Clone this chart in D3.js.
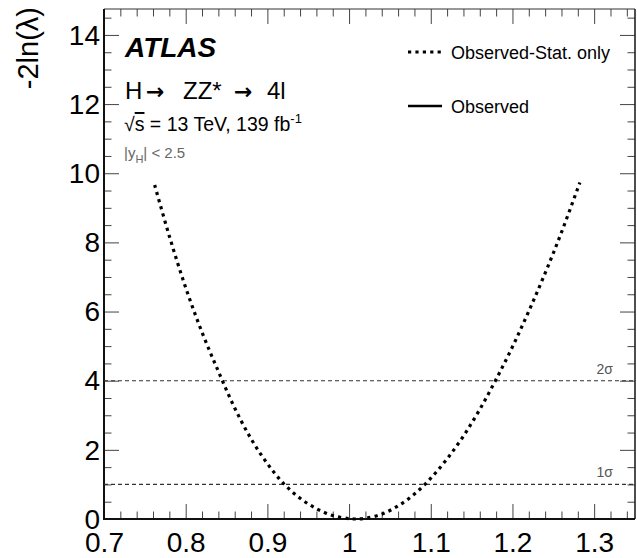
<!DOCTYPE html>
<html><head><meta charset="utf-8">
<script src="https://cdn.jsdelivr.net/npm/d3@7"></script>
<style>
body{margin:0;background:#fff}
text{font-family:"Liberation Sans",Arial,Helvetica,sans-serif}
</style>
</head><body>
<svg id="c" width="637" height="558"></svg>
<script>
// ---- data ----
const curveX = [0.762,0.78,0.80,0.82,0.84,0.86,0.88,0.90,0.92,0.94,0.96,0.98,1.00,1.008,1.02,1.04,1.06,1.08,1.10,1.12,1.14,1.16,1.18,1.20,1.22,1.24,1.26,1.2825];
const curveY = [9.66,8.18,6.69,5.40,4.27,3.21,2.32,1.60,1.02,0.60,0.30,0.10,0.01,0.0,0.02,0.14,0.38,0.72,1.18,1.74,2.40,3.17,4.04,4.98,6.01,7.11,8.29,9.73];
const xMajorTicks = [0.7,0.8,0.9,1.0,1.1,1.2,1.3];
const xTickLabels = ["0.7","0.8","0.9","1","1.1","1.2","1.3"];
const yMajorTicks = [0,2,4,6,8,10,12,14];
const yTickLabels = ["0","2","4","6","8","10","12","14"];
const sigmaLevels = [4,1];
const sigmaLabels = ["2σ","1σ"];
const legendLabels = ["Observed-Stat. only","Observed"];
const xDomain = [0.7,1.35];
const yDomain = [0,14.75];

// ---- layout ----
const L=104,R=635,T=9,B=519;
const svg=d3.select("#c");
const x=d3.scaleLinear().domain(xDomain).range([L,R]);
const y=d3.scaleLinear().domain(yDomain).range([B,T]);
const xMinor=d3.range(70,136,2).map(v=>v/100).filter(v=>!xMajorTicks.some(m=>Math.abs(m-v)<1e-9));
const yMinor=d3.range(0,30,1).map(v=>v/2).filter(v=>v<=yDomain[1] && v%2!==0);

function style(g){g.select(".domain").remove();g.selectAll(".tick line").attr("stroke","#444").attr("stroke-width",1);}

// bottom
svg.append("g").attr("transform",`translate(0,${B})`)
  .call(d3.axisBottom(x).tickValues(xMajorTicks).tickSize(-15).tickPadding(13).tickFormat((d,i)=>xTickLabels[i]))
  .call(style).call(g=>g.selectAll("text").attr("font-size",28).attr("fill","#000").attr("font-family","Liberation Sans, Arial, sans-serif"));
svg.append("g").attr("transform",`translate(0,${B})`)
  .call(d3.axisBottom(x).tickValues(xMinor).tickSize(-7.5).tickFormat("")).call(style);
// top
svg.append("g").attr("transform",`translate(0,${T})`)
  .call(d3.axisBottom(x).tickValues(xMajorTicks).tickSize(15).tickFormat("")).call(style);
svg.append("g").attr("transform",`translate(0,${T})`)
  .call(d3.axisBottom(x).tickValues(xMinor).tickSize(7.5).tickFormat("")).call(style);
// left
svg.append("g").attr("transform",`translate(${L},0)`)
  .call(d3.axisLeft(y).tickValues(yMajorTicks).tickSize(-15).tickPadding(4).tickFormat((d,i)=>yTickLabels[i]))
  .call(style).call(g=>g.selectAll("text").attr("font-size",28).attr("fill","#000").attr("dy","0.33em").attr("font-family","Liberation Sans, Arial, sans-serif"));
svg.append("g").attr("transform",`translate(${L},0)`)
  .call(d3.axisLeft(y).tickValues(yMinor).tickSize(-7.5).tickFormat("")).call(style);
// right
svg.append("g").attr("transform",`translate(${R},0)`)
  .call(d3.axisLeft(y).tickValues(yMajorTicks).tickSize(15).tickFormat("")).call(style);
svg.append("g").attr("transform",`translate(${R},0)`)
  .call(d3.axisLeft(y).tickValues(yMinor).tickSize(7.5).tickFormat("")).call(style);

// frame
svg.append("line").attr("x1",L).attr("x2",R).attr("y1",T).attr("y2",T).attr("stroke","#333").attr("stroke-width",1.2);
svg.append("line").attr("x1",R).attr("x2",R).attr("y1",T).attr("y2",B).attr("stroke","#222").attr("stroke-width",1.6);
svg.append("line").attr("x1",L).attr("x2",L).attr("y1",T).attr("y2",B+1).attr("stroke","#111").attr("stroke-width",2);
svg.append("line").attr("x1",L-1).attr("x2",R).attr("y1",B).attr("y2",B).attr("stroke","#111").attr("stroke-width",2);

// sigma lines
sigmaLevels.forEach((s,i)=>{
  svg.append("line").attr("x1",L).attr("x2",R).attr("y1",y(s)).attr("y2",y(s))
    .attr("stroke","#333").attr("stroke-width",1.1).attr("stroke-dasharray","4,3");
  svg.append("text").attr("x",613).attr("y",y(s)-7).attr("text-anchor","end")
    .attr("font-size",14).attr("fill","#555").text(sigmaLabels[i]);
});

// curve
const pts=curveX.map((v,i)=>[v,curveY[i]]);
svg.append("path").datum(pts)
  .attr("d",d3.line().x(d=>x(d[0])).y(d=>y(d[1])).curve(d3.curveCatmullRom))
  .attr("fill","none").attr("stroke","#000").attr("stroke-width",3.2).attr("stroke-dasharray","3.2,4.2");

// y title
svg.append("text").attr("transform","translate(38,7) rotate(-90)").attr("text-anchor","end")
  .attr("font-size",29).text("-2ln(λ)");

// labels
svg.append("text").attr("x",125).attr("y",56.5).attr("font-size",28).attr("font-weight","bold").attr("font-style","italic").text("ATLAS");
const h=svg.append("text").attr("y",99).attr("font-size",24);
h.append("tspan").attr("x",125).text("H");
h.append("tspan").attr("x",146).attr("font-family","DejaVu Sans").attr("font-weight","bold").attr("font-size",22).text("→");
h.append("tspan").attr("x",183).text("ZZ*");
h.append("tspan").attr("x",234).attr("font-family","DejaVu Sans").attr("font-weight","bold").attr("font-size",22).text("→");
h.append("tspan").attr("x",267).text("4l");
const e=svg.append("text").attr("x",124).attr("y",131).attr("font-size",19.5);
e.append("tspan").text("√");
e.append("tspan").attr("text-decoration","overline").text("s");
e.append("tspan").text(" = 13 TeV, 139 fb");
e.append("tspan").attr("dy",-8).attr("font-size",13).text("-1");
const r=svg.append("text").attr("x",124).attr("y",157.5).attr("font-size",15).attr("fill","#666");
r.append("tspan").text("|y");
r.append("tspan").attr("dy",5).attr("font-size",11).text("H");
r.append("tspan").attr("dy",-5).text("| < 2.5");

// legend
const legY=[52,106];
svg.append("line").attr("x1",408).attr("x2",442).attr("y1",legY[0]).attr("y2",legY[0])
  .attr("stroke","#000").attr("stroke-width",3.2).attr("stroke-dasharray","3.2,4.2");
svg.append("line").attr("x1",408).attr("x2",442).attr("y1",legY[1]).attr("y2",legY[1])
  .attr("stroke","#000").attr("stroke-width",2.5);
legendLabels.forEach((t,i)=>svg.append("text").attr("x",451).attr("y",legY[i]+6.5).attr("font-size",18).text(t));
</script>
</body></html>
